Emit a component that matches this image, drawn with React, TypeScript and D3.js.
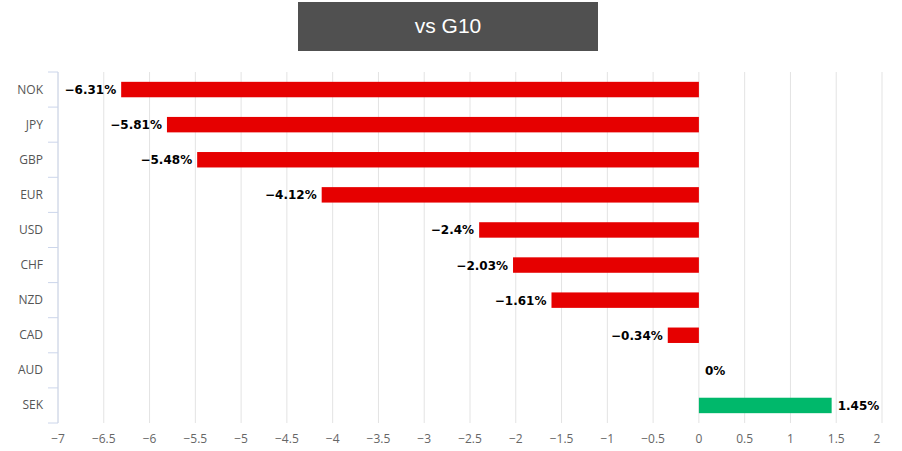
import React from "react";
import * as d3 from "d3";

const categories = ["NOK", "JPY", "GBP", "EUR", "USD", "CHF", "NZD", "CAD", "AUD", "SEK"];
const values = [-6.31, -5.81, -5.48, -4.12, -2.4, -2.03, -1.61, -0.34, 0, 1.45];
const xTicks = [-7, -6.5, -6, -5.5, -5, -4.5, -4, -3.5, -3, -2.5, -2, -1.5, -1, -0.5, 0, 0.5, 1, 1.5, 2];

const App = () => {
  const width = 902;
  const height = 451;
  const margin = { top: 72, right: 20, bottom: 28, left: 58 };

  const x = d3.scaleLinear().domain([-7, 2]).range([margin.left, 882]);
  const y = d3.scaleBand().domain(categories).range([margin.top, 423]).paddingInner(0.56).paddingOuter(0.28);
  const band = d3.scaleBand().domain(categories).range([margin.top, 423]);

  const fmt = (v: number) => (v < 0 ? "\u2212" + Math.abs(v) : "" + v);

  return (
    <svg width={width} height={height} style={{ position: "absolute", left: 0, top: 0, background: "#fff" }}>
      {/* title box */}
      <rect x={298} y={2} width={300} height={49} fill="#505050" />
      <text x={448} y={33} textAnchor="middle" fill="#fff" fontFamily="Liberation Sans, Arial" fontSize={21}>
        vs G10
      </text>

      {/* grid */}
      {xTicks.map((t) => (
        <line key={"g" + t} x1={x(t)} x2={x(t)} y1={margin.top} y2={423} stroke="#e3e3e3" strokeWidth={1} />
      ))}

      {/* left axis */}
      <line x1={margin.left} x2={margin.left} y1={margin.top} y2={423} stroke="#ccd6eb" />
      {categories.map((c) => (
        <line key={"t" + c} x1={48} x2={margin.left} y1={band(c)!} y2={band(c)!} stroke="#ccd6eb" />
      ))}
      <line x1={48} x2={margin.left} y1={423} y2={423} stroke="#ccd6eb" />
      {categories.map((c) => (
        <text key={"l" + c} x={43} y={band(c)! + band.bandwidth() / 2 + 4} textAnchor="end" fill="#555" fontFamily="Open Sans, sans-serif" fontSize={12}>
          {c}
        </text>
      ))}

      {/* bars */}
      {categories.map((c, i) => {
        const v = values[i];
        const x0 = x(Math.min(0, v));
        const w = Math.abs(x(v) - x(0));
        return (
          <rect key={"b" + c} x={x0} y={y(c)!} width={w} height={y.bandwidth()} fill={v >= 0 ? "#00b86b" : "#e60000"} />
        );
      })}

      {/* data labels */}
      {categories.map((c, i) => {
        const v = values[i];
        const neg = v < 0;
        return (
          <text
            key={"d" + c}
            x={neg ? x(v) - 5 : x(v) + 6}
            y={band(c)! + band.bandwidth() / 2 + 4.5}
            textAnchor={neg ? "end" : "start"}
            fill="#000"
            fontFamily="DejaVu Sans, Verdana, sans-serif"
            fontWeight="bold"
            fontSize={12}
          >
            {fmt(v) + "%"}
          </text>
        );
      })}

      {/* x axis labels */}
      {xTicks.map((t, i) => (
        <text
          key={"x" + t}
          x={i === xTicks.length - 1 ? x(t) - 5 : x(t)}
          y={443}
          textAnchor="middle"
          fill="#666"
          fontFamily="Open Sans, sans-serif"
          fontSize={12}
        >
          {fmt(t)}
        </text>
      ))}
    </svg>
  );
};

export default App;
